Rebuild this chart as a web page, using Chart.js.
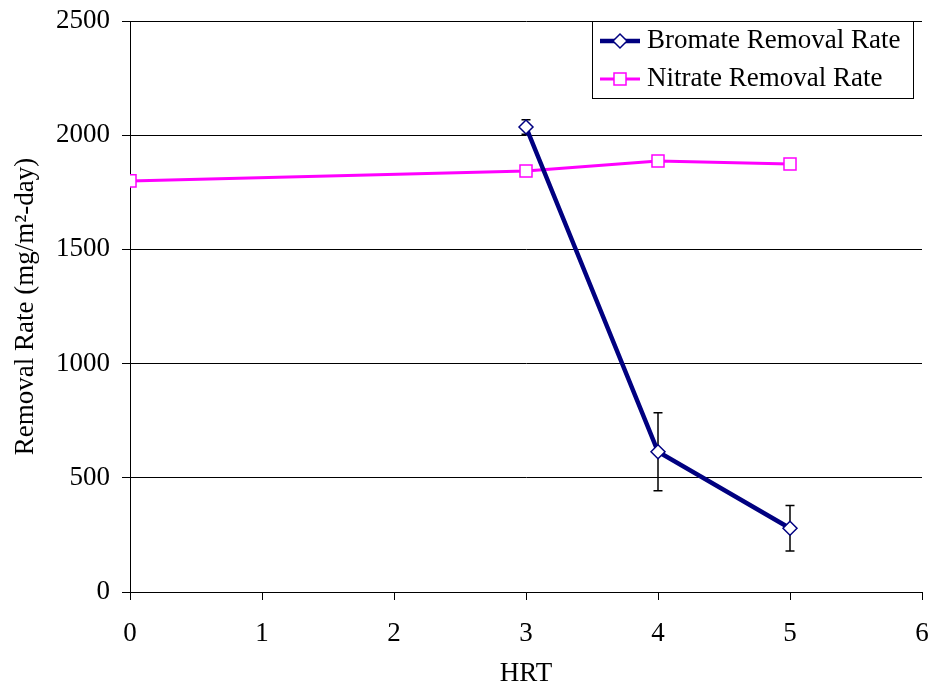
<!DOCTYPE html>
<html>
<head>
<meta charset="utf-8">
<script src="https://cdn.jsdelivr.net/npm/chart.js@4.4.0/dist/chart.umd.min.js"></script>
<style>
  html, body { margin: 0; padding: 0; background: #fff; }
  #wrap { width: 933px; height: 683px; }
</style>
</head>
<body>
<div id="wrap"><canvas id="myChart" width="933" height="683"></canvas></div>
<script>
// data
const bromateHrt = [3, 4, 5];
const bromateRate = [2036, 614, 279];
const bromateErr = [32, 171, 100];

const nitrateHrt = [0, 3, 4, 5];
const nitrateRate = [1800, 1843, 1887, 1874];

const xTicks = [0, 1, 2, 3, 4, 5, 6];
const yTicks = [0, 500, 1000, 1500, 2000, 2500];

const seriesNames = ['Bromate Removal Rate', 'Nitrate Removal Rate'];

const FONT = 'Liberation Serif';

// error bars drawn under the line & markers
const errorBars = {
    id: 'errorBars',
    beforeDatasetsDraw(chart) {
        const ctx = chart.ctx;
        const xs = chart.scales.x;
        const ys = chart.scales.y;
        ctx.save();
        ctx.strokeStyle = '#000';
        ctx.lineWidth = 1.5;
        bromateHrt.forEach(function (h, i) {
            const x = xs.getPixelForValue(h);
            const yTop = ys.getPixelForValue(bromateRate[i] + bromateErr[i]);
            const yBot = ys.getPixelForValue(bromateRate[i] - bromateErr[i]);
            ctx.beginPath();
            ctx.moveTo(x, yTop); ctx.lineTo(x, yBot);
            ctx.moveTo(x - 4.5, yTop); ctx.lineTo(x + 4.5, yTop);
            ctx.moveTo(x - 4.5, yBot); ctx.lineTo(x + 4.5, yBot);
            ctx.stroke();
        });
        ctx.restore();
    }
};

// excel style legend box inside the plot
const boxLegend = {
    id: 'boxLegend',
    afterDraw(chart) {
        const ctx = chart.ctx;
        const left = 592, top = 21, w = 321, h = 77;
        ctx.save();
        ctx.fillStyle = '#fff';
        ctx.fillRect(left, top, w, h);
        ctx.strokeStyle = '#000';
        ctx.lineWidth = 1;
        ctx.strokeRect(left + 0.5, top + 0.5, w, h);

        const rows = [41, 79];
        chart.data.datasets.forEach(function (ds, i) {
            const y = rows[i];
            ctx.strokeStyle = ds.borderColor;
            ctx.lineWidth = ds.borderWidth;
            ctx.beginPath();
            ctx.moveTo(600, y); ctx.lineTo(640, y);
            ctx.stroke();

            ctx.fillStyle = ds.pointBackgroundColor;
            ctx.strokeStyle = ds.pointBorderColor;
            ctx.lineWidth = ds.pointBorderWidth;
            ctx.beginPath();
            if (ds.pointStyle === 'rect') {
                const s = Math.SQRT1_2 * ds.pointRadius;
                ctx.rect(620 - s, y - s, 2 * s, 2 * s);
            } else {
                const r = ds.pointRadius;
                ctx.moveTo(620 - r, y); ctx.lineTo(620, y - r);
                ctx.lineTo(620 + r, y); ctx.lineTo(620, y + r);
                ctx.closePath();
            }
            ctx.fill();
            ctx.stroke();

            ctx.fillStyle = '#000';
            ctx.font = '27px "' + FONT + '"';
            ctx.textBaseline = 'middle';
            ctx.textAlign = 'left';
            ctx.fillText(ds.label, 647, y);
        });
        ctx.restore();
    }
};

const ctx = document.getElementById('myChart').getContext('2d');

const myChart = new Chart(ctx, {
    type: 'scatter',
    data: {
        datasets: [
            {
                label: seriesNames[0],
                data: bromateHrt.map((h, i) => ({ x: h, y: bromateRate[i] })),
                showLine: true,
                borderColor: '#000080',
                borderWidth: 4.5,
                pointStyle: 'rectRot',
                pointRadius: 7,
                pointBackgroundColor: '#fff',
                pointBorderColor: '#000080',
                pointBorderWidth: 1.5,
                tension: 0,
            },
            {
                label: seriesNames[1],
                data: nitrateHrt.map((h, i) => ({ x: h, y: nitrateRate[i] })),
                showLine: true,
                borderColor: '#FF00FF',
                borderWidth: 3,
                pointStyle: 'rect',
                pointRadius: 8.5,
                pointBackgroundColor: '#fff',
                pointBorderColor: '#FF00FF',
                pointBorderWidth: 1.5,
                tension: 0,
            },
        ],
    },
    options: {
        responsive: false,
        animation: false,
        devicePixelRatio: 1,
        layout: { padding: { top: 21, right: 11, left: 0, bottom: 0 } },
        plugins: {
            legend: { display: false },
            tooltip: { enabled: false },
        },
        scales: {
            x: {
                type: 'linear',
                min: 0,
                max: 6,
                afterBuildTicks: function (scale) {
                    scale.ticks = xTicks.map(v => ({ value: v }));
                },
                afterFit: function (scale) {
                    scale.height = 91;
                    scale.paddingLeft = 0;
                    scale.paddingRight = 0;
                },
                ticks: {
                    color: '#000',
                    font: { family: FONT, size: 27 },
                    padding: 18,
                    maxRotation: 0,
                    callback: v => String(v),
                },
                grid: {
                    drawOnChartArea: false,
                    color: '#000',
                    tickLength: 8,
                },
                border: { color: '#000', width: 1 },
                title: {
                    display: true,
                    text: 'HRT',
                    color: '#000',
                    font: { family: FONT, size: 27 },
                    padding: { top: 0, bottom: -7 },
                },
            },
            y: {
                min: 0,
                max: 2500,
                afterBuildTicks: function (scale) {
                    scale.ticks = yTicks.map(v => ({ value: v }));
                },
                afterFit: function (scale) {
                    scale.width = 130;
                    scale.paddingTop = 0;
                    scale.paddingBottom = 0;
                },
                ticks: {
                    color: '#000',
                    font: { family: FONT, size: 27 },
                    padding: 12,
                    callback: v => String(v),
                },
                grid: {
                    color: '#000',
                    lineWidth: 1,
                    tickLength: 8,
                },
                border: { color: '#000', width: 1 },
                title: {
                    display: true,
                    text: 'Removal Rate (mg/m²-day)',
                    color: '#000',
                    font: { family: FONT, size: 27 },
                    padding: { top: 10, bottom: 0 },
                },
            },
        },
    },
    plugins: [errorBars, boxLegend],
});
</script>
</body>
</html>
